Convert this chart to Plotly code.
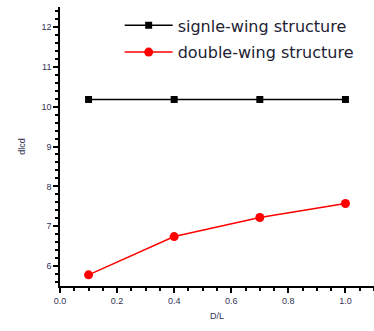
import plotly.graph_objects as go

x_vals = [0.1, 0.4, 0.7, 1.0]
single_wing = [10.18, 10.18, 10.18, 10.18]
double_wing = [5.78, 6.74, 7.22, 7.57]
series_names = ["signle-wing structure", "double-wing structure"]
x_title = "D/L"
y_title = "dlcd"

fig = go.Figure()
fig.add_trace(go.Scatter(x=x_vals, y=single_wing, mode="lines+markers", name=series_names[0],
                         legendgroup="a",
                         line=dict(color="black", width=1.5),
                         marker=dict(symbol="square", size=7, color="black")))
fig.add_trace(go.Scatter(x=x_vals, y=double_wing, mode="lines+markers", name=series_names[1],
                         legendgroup="b",
                         line=dict(color="red", width=1.5),
                         marker=dict(symbol="circle", size=9, color="red")))

axis_common = dict(showline=True, linecolor="black", linewidth=1.5, ticks="outside", ticklen=5,
                   tickwidth=1.5, tickcolor="black", showgrid=False, zeroline=False,
                   tickfont=dict(family="Liberation Sans, Arial", size=9, color="#333355"),
                   minor=dict(ticks="outside", ticklen=3, tickwidth=1.5, tickcolor="black"))

fig.update_xaxes(range=[0, 1.1], dtick=0.2, tick0=0, tickformat=".1f",
                 title=dict(text=x_title, font=dict(family="Liberation Sans, Arial", size=9, color="#333355"), standoff=8),
                 **axis_common)
fig.update_yaxes(range=[5.5, 12.5], dtick=1, tick0=0,
                 title=dict(text=y_title, font=dict(family="Liberation Sans, Arial", size=9, color="#333355"), standoff=14),
                 **axis_common)

fig.update_layout(width=374, height=331, margin=dict(l=60, r=0, t=7, b=45),
                  plot_bgcolor="white", paper_bgcolor="white",
                  legend=dict(x=0.19, y=0.995, xanchor="left", yanchor="top", bgcolor="rgba(0,0,0,0)",
                              font=dict(family="DejaVu Sans", size=16, color="#222233"),
                              itemwidth=48, traceorder="grouped", tracegroupgap=3),
                  showlegend=True)

fig.write_html("out.html")
